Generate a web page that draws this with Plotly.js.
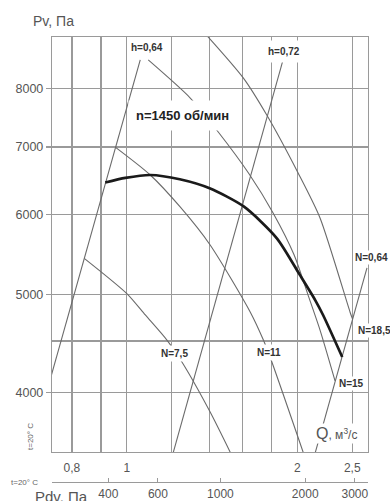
<!DOCTYPE html>
<html><head><meta charset="utf-8">
<script src="https://cdn.plot.ly/plotly-3.0.1.min.js"></script>
<style>html,body{margin:0;padding:0;background:#fff}#chart{width:390px;height:501px}</style>
</head><body><div id="chart"></div>
<script>
// Fan characteristic n = 1450 rpm (Q, m3/s ; Pv, Pa)
var mainQ = [0.916, 0.994, 1.10, 1.24, 1.40, 1.61, 1.84, 2.02, 2.15, 2.22, 2.40];
var mainP = [6455, 6523, 6567, 6503, 6371, 6110, 5686, 5231, 4940, 4775, 4339];
// Curve N = 7.5
var n75Q = [0.841, 1.002, 1.078, 1.177, 1.251, 1.403, 1.546];
var n75P = [5432, 5008, 4775, 4510, 4290, 3828, 3432];
// Curve N = 11
var n11Q = [0.954, 1.100, 1.242, 1.403, 1.651, 1.742, 1.803, 2.070];
var n11P = [6997, 6567, 6106, 5600, 4808, 4510, 4290, 3432];
// Curve N = 15
var n15Q = [1.091, 1.294, 1.450, 1.644, 1.812, 1.974, 2.089, 2.193, 2.331];
var n15P = [8533, 7825, 7242, 6582, 6023, 5473, 4996, 4614, 4110];
// Curve N = 18.5
var n185Q = [1.358, 1.605, 1.766, 2.006, 2.193, 2.477, 2.503];
var n185P = [9130, 8191, 7527, 6597, 5955, 4808, 4730];
// Efficiency lines
var eta064LQ = [0.730, 1.056];
var eta064LP = [4098, 8533];
var eta072Q = [1.197, 1.887];
var eta072P = [3430, 8533];
var eta064RQ = [2.132, 2.654];
var eta064RP = [3430, 5315];
// Axis ticks / grid
var qGrid = [0.8, 0.9, 1, 1.2, 1.4, 1.6, 1.8, 2, 2.5];
var qGridText = ['0,8', ' ', '1', ' ', ' ', ' ', ' ', '2', '2,5'];
var pTicks = [4000, 5000, 6000, 7000, 8000];
var pExtraGrid = [4500];
var pdvTicks = [400, 600, 1000, 2000, 3000];

var thin = {color: '#6a6a6a', width: 1.1};
function curve(x, y, shape) {
  return {x: x, y: y, type: 'scatter', mode: 'lines', hoverinfo: 'skip',
    line: Object.assign({}, thin, {shape: shape || 'spline', smoothing: 0.7})};
}
var traces = [
  curve(eta064LQ, eta064LP, 'linear'),
  curve(eta072Q, eta072P, 'linear'),
  curve(eta064RQ, eta064RP, 'linear'),
  curve(n75Q, n75P),
  curve(n11Q, n11P),
  curve(n15Q, n15P),
  curve(n185Q, n185P),
  {x: mainQ, y: mainP, type: 'scatter', mode: 'lines', hoverinfo: 'skip',
   line: {color: '#1a1a1a', width: 2.7, shape: 'spline', smoothing: 0.7}},
  {x: pdvTicks, y: pdvTicks.map(function(){return null;}), xaxis: 'x2', yaxis: 'y2',
   type: 'scatter', mode: 'lines', hoverinfo: 'skip', showlegend: false}
];

var F = 'Liberation Sans, Arial, sans-serif';
var grid = '#9a9a9a';
function lab(text, x, y, opts) {
  var a = {text: text, x: Math.log10(x), y: Math.log10(y), xref: 'x', yref: 'y',
    xanchor: 'center', yanchor: 'middle',
    showarrow: false, bgcolor: '#fff', borderpad: 1,
    font: {family: F, size: 10, color: '#333', weight: 'bold'}};
  return Object.assign(a, opts || {});
}
function ptxt(text, x, y, size, opts) {
  var a = {text: text, xref: 'paper', yref: 'paper', x: x, y: y, xanchor: 'center', yanchor: 'middle',
    showarrow: false, font: {family: F, size: size, color: '#555'}};
  return Object.assign(a, opts || {});
}
var annotations = [
  lab('h=0,64', 1.0864, 8769, {borderpad: 1}),
  lab('h=0,72', 1.8955, 8700, {borderpad: 5}),
  lab('n=1450 об/мин', 1.2522, 7527, {borderpad: 7, font: {family: F, size: 13, color: '#222', weight: 'bold'}}),
  lab('N=0,64', 2.5078, 5448, {xanchor: 'left'}),
  lab('N=18,5', 2.5386, 4614, {xanchor: 'left'}),
  lab('N=15', 2.4925, 4090),
  lab('N=11', 1.7834, 4388, {borderpad: 2}),
  lab('N=7,5', 1.2123, 4378, {borderpad: 2}),
  lab('<span style="font-size:16px">Q</span>, м<sup>3</sup>/с', 2.3407, 3650,
      {borderpad: 1, font: {family: F, size: 12, color: '#555'}}),
  ptxt('Pv, Па', 0.005, 1.036, 14),
  ptxt('t=20° C', -0.0665, 0.1034, 8, {textangle: -90, font: {family: F, size: 8, color: '#666'}}),
  ptxt('t=20° C', -0.0886, 0, 8, {font: {family: F, size: 8, color: '#666'}}),
  ptxt('Pdv, Па', 0.0285, -0.0315, 15)
];

var layout = {
  width: 390, height: 501,
  margin: {l: 52, r: 22, t: 37, b: 19, pad: 0, autoexpand: false},
  paper_bgcolor: '#fff', plot_bgcolor: '#fff',
  showlegend: false, hovermode: false,
  font: {family: F, color: '#555'},
  xaxis: {type: 'log', range: [-0.1321, 0.4257], tickmode: 'array', tickvals: qGrid, ticktext: qGridText,
    showgrid: true, gridcolor: grid, gridwidth: 1.2, zeroline: false,
    showline: true, mirror: true, linecolor: grid, linewidth: 1.2, ticks: '',
    ticklabelstandoff: 4, tickfont: {family: F, size: 12, color: '#555'}},
  xaxis2: {type: 'log', range: [2.402, 3.524], overlaying: 'x', anchor: 'free', position: 0, side: 'bottom',
    tickmode: 'array', tickvals: pdvTicks, ticktext: pdvTicks.map(String),
    showgrid: false, zeroline: false, showline: true, linecolor: grid, linewidth: 1.2,
    ticks: 'inside', ticklen: 4, tickcolor: grid, tickfont: {family: F, size: 12, color: '#555'}},
  yaxis: {type: 'log', range: [3.5435, 3.9538], domain: [0.0674, 1], tickmode: 'array', tickvals: pTicks,
    ticktext: pTicks.map(String), showgrid: true, gridcolor: grid, gridwidth: 1.2, zeroline: false,
    showline: true, mirror: true, linecolor: grid, linewidth: 1.2,
    ticks: 'outside', ticklen: 5, tickcolor: grid, tickwidth: 1.2,
    tickfont: {family: F, size: 12.5, color: '#555'}},
  yaxis2: {type: 'log', range: [3.5435, 3.9538], domain: [0.0674, 1], overlaying: 'y', anchor: 'x',
    tickmode: 'array', tickvals: pExtraGrid, showticklabels: false, ticks: '',
    showgrid: true, gridcolor: grid, gridwidth: 1.2, zeroline: false, showline: false},
  annotations: annotations
};
Plotly.newPlot('chart', traces, layout, {displayModeBar: false, staticPlot: true});
</script></body></html>
